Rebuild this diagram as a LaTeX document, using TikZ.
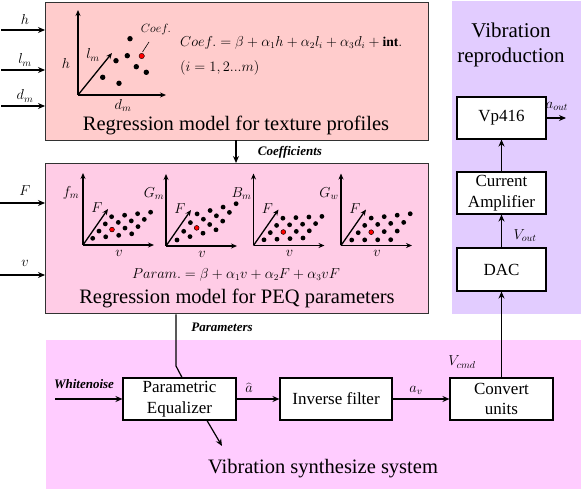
\documentclass[tikz,border=0pt]{standalone}
\usepackage{fontspec}
\setmainfont{Liberation Serif}
\usetikzlibrary{arrows.meta,calc}
\definecolor{topbg}{RGB}{255,204,204}
\definecolor{midbg}{RGB}{255,204,230}
\definecolor{botbg}{RGB}{255,204,255}
\definecolor{purbg}{RGB}{226,204,255}
\definecolor{frame}{RGB}{50,50,50}
\newcommand\peqplot[9]{%
 % #1 origin, #2 label, #3 name, #4 x0, #5 y0, #6 colslope, #7 rowdx, #8 rowdy, #9 quad
 \begin{scope}[shift={#1}]
  \draw[axis] (0,0) -- (0,-72);
  \draw[axis] (0,0) -- (71,0);
  \draw[axis] (0,0) -- (25,-36);
  \node[lab] (#3y) at (-12,-52) {$#2$};
  \node[lab] (#3F) at (14,-37) {$F$};
  \node[lab] (#3v) at (36,8) {$v$};
  \foreach \i in {0,...,3}{\foreach \j in {0,...,3}{
   \fill ({#4+13*\i+#7*\j},{-#5-#6*\i-#8*\j-#9*\i*\j}) circle (2.4);}}
  \fill[red,draw=black,line width=0.4pt] ({#4+13+#7},{-#5-#6-#8-#9}) circle (2.4);
 \end{scope}}
\begin{document}
\begin{tikzpicture}[x=1pt,y=-1pt,
  >={Stealth[length=7pt,width=6pt]},
  conn/.style={line width=1.2pt,->},
  axis/.style={line width=1.3pt,-{Stealth[length=6pt,width=5pt]}},
  region/.style={draw=frame,line width=1.3pt,inner sep=0pt,anchor=north west},
  blk/.style={draw=black,fill=white,line width=1.1pt,inner sep=0pt,align=center,
     font=\fontsize{17}{20.5}\selectfont},
  title/.style={font=\fontsize{20.5}{25}\selectfont,align=center,inner sep=0pt},
  lab/.style={font=\fontsize{14}{16}\selectfont,inner sep=0pt},
  eq/.style={font=\fontsize{13.5}{16}\selectfont,inner sep=0pt},
  bilab/.style={font=\fontsize{13}{15}\selectfont\bfseries\itshape,inner sep=0pt}]
\useasboundingbox (0,0) rectangle (581,489);
% background regions
\node[region,draw=none,fill=purbg,minimum width=130pt,minimum height=313pt] (repro) at (451,0) {};
\node[region,draw=none,fill=botbg,minimum width=536pt,minimum height=150pt] (synth) at (45,339) {};
\node[region,fill=topbg,minimum width=383pt,minimum height=138pt] (texbox) at (45,2) {};
\node[region,fill=midbg,minimum width=383pt,minimum height=150pt] (regbox) at (45,163) {};
% titles
\node[title] (textitle) at (236,125) {Regression model for texture profiles};
\node[title] (regtitle) at (237,298) {Regression model for PEQ parameters};
\node[title] (syntitle) at (323,469) {Vibration synthesize system};
\node[title,font=\fontsize{21}{25}\selectfont] (reptitle) at (511,45) {Vibration\\reproduction};
% blocks
\node[blk,minimum width=113pt,minimum height=42pt] (peq) at (179.5,399) {Parametric\\Equalizer};
\node[blk,minimum width=112pt,minimum height=42pt] (inv) at (336,399) {Inverse filter};
\node[blk,minimum width=103pt,minimum height=42pt] (conv) at (501.5,399) {Convert\\units};
\node[blk,minimum width=89pt,minimum height=43pt] (dac) at (501.5,269.5) {DAC};
\node[blk,minimum width=89pt,minimum height=42pt] (amp) at (501.5,193) {Current\\Amplifier};
\node[blk,minimum width=89pt,minimum height=42pt] (vp) at (501.5,118) {Vp416};
% inputs
\foreach \n/\yy/\t in {hin/30/h, lin/70/l_m, din/106/d_m}{
  \coordinate (\n) at (1,\yy);
  \draw[conn] (\n) -- (\n -| texbox.west);
  \node[lab] at ($(\n)+(24,-10)$) {$\t$};}
\foreach \n/\yy/\t in {Fin/203/F, vin/275/v}{
  \coordinate (\n) at (0,\yy);
  \draw[conn] (\n) -- (\n -| regbox.west);
  \node[lab] at ($(\n)+(25,-12)$) {$\t$};}
% coefficients
\coordinate (cf) at (236,140.5);
\draw[conn] (cf) -- (cf |- regbox.north);
\node[bilab] (coeflab) at (290,152) {Coefficients};
% parameters
\coordinate (pbend) at (176,366);
\draw[line width=1.2pt] (pbend |- regbox.south) -- (pbend) -- ($(peq.north)+(2.5,0)$);
\node[bilab] (paramlab) at (222,327) {Parameters};
% whitenoise
\coordinate (wn) at (55,399);
\draw[conn] (wn) -- (peq.west);
\node[bilab] (wnlab) at (84,384) {Whitenoise};
% peq out
\coordinate (peqout) at (222,446);
\draw[conn] ($(peq.south)+(27.5,0)$) -- (peqout);
% chain
\draw[conn] (peq.east) -- (inv.west);
\node[lab] (ahat) at (249,388) {$\widehat{a}$};
\draw[conn] (inv.east) -- (conv.west);
\node[lab] (av) at (416,390) {$a_v$};
\draw[conn] (conv.north) -- (dac.south);
\node[lab] (vcmd) at (462,362) {$V_{cmd}$};
\draw[conn] (dac.north) -- (amp.south);
\node[lab] (vout) at (525,236) {$V_{out}$};
\draw[conn] (amp.north) -- (vp.south);
\coordinate (aout) at (566,118);
\draw[conn] (vp.east) -- (aout);
\node[lab] (aoutlab) at (557,106) {$a_{out}$};
% top plot
\coordinate (o1) at (78,95);
\draw[axis] (o1) -- ++(0,-85);
\draw[axis] (o1) -- ++(88,0);
\draw[axis] (o1) -- ++(34,-42);
\node[lab] (hl) at (66,64) {$h$};
\node[lab] (lml) at (93,55) {$l_m$};
\node[lab] (dml) at (123,105.5) {$d_m$};
\foreach \p in {(130,38.7),(127.3,55.7),(116,60.7),(136.3,66.7),(146.3,72.3),(102.7,77.3),(119,83.3)}
  \fill \p circle (2.7);
\fill[red,draw=black,line width=0.4pt] (141.7,56) circle (2.7);
\node[lab,font=\fontsize{13}{14}\selectfont] (coefl) at (156,30) {$Coef.$};
\draw[line width=0.6pt] (142.5,52) -- (149,42);
\node[eq,anchor=west] (eq1) at (180,43) {$Coef. = \beta + \alpha_1 h + \alpha_2 l_i + \alpha_3 d_i + \mathbf{int.}$};
\node[eq,anchor=west] (eq2) at (180,68) {$(i = 1, 2 ... m)$};
% PEQ plots
\peqplot{(83,245)}{f_m}{pa}{9.7}{6.7}{1.5}{6.3}{7.2}{0}
\peqplot{(166,246)}{G_m}{pb}{11}{6}{3.4}{6.7}{8.7}{0}
\peqplot{(253.5,245.5)}{B_m}{pc}{10.5}{5.7}{0.6}{6.3}{7.2}{0}
\peqplot{(341,245.5)}{G_w}{pd}{10.7}{5.5}{0.1}{6.5}{7.3}{0.45}
\node[eq] (eq3) at (236,275) {$Param. = \beta + \alpha_1 v + \alpha_2 F + \alpha_3 vF$};
\end{tikzpicture}
\end{document}
